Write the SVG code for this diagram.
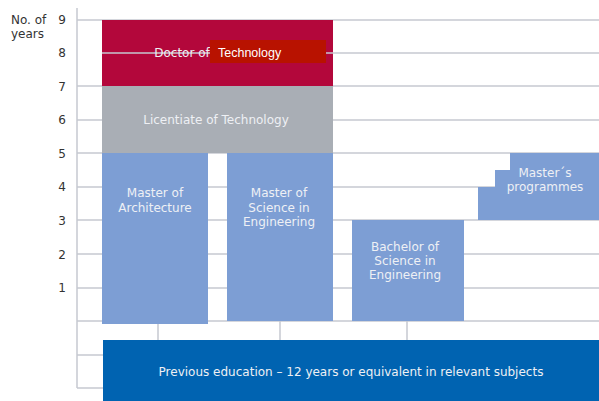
<svg xmlns="http://www.w3.org/2000/svg" width="599" height="401" viewBox="0 0 599 401">
<style>
.grid{stroke:#c6c9d0;stroke-width:1.5;fill:none}
.axis{fill:#333;font-family:"DejaVu Sans",Verdana,sans-serif;font-size:12px}
.lbl{fill:#eef0f4;font-family:"DejaVu Sans",Verdana,sans-serif;font-size:12px;text-anchor:middle}
.blue{fill:#7d9ed4}
</style>
<rect width="599" height="401" fill="#ffffff"/>
<g id="grid">
<line class="grid" x1="77" y1="8" x2="77" y2="388"/>
<line class="grid" x1="77" y1="20" x2="599" y2="20"/>
<line class="grid" x1="77" y1="86" x2="599" y2="86"/>
<line class="grid" x1="77" y1="120" x2="599" y2="120"/>
<line class="grid" x1="77" y1="153" x2="599" y2="153"/>
<line class="grid" x1="77" y1="187" x2="599" y2="187"/>
<line class="grid" x1="77" y1="220" x2="599" y2="220"/>
<line class="grid" x1="77" y1="254" x2="599" y2="254"/>
<line class="grid" x1="77" y1="288" x2="599" y2="288"/>
<line class="grid" x1="77" y1="321" x2="599" y2="321"/>
<line class="grid" x1="77" y1="355" x2="599" y2="355"/>
<line class="grid" x1="77" y1="388" x2="103" y2="388"/>
</g>
<g id="axis-labels">
<text class="axis" x="11" y="24">No. of</text>
<text class="axis" x="11" y="38">years</text>
<text class="axis" x="66" y="24" text-anchor="end">9</text>
<text class="axis" x="66" y="57" text-anchor="end">8</text>
<text class="axis" x="66" y="91" text-anchor="end">7</text>
<text class="axis" x="66" y="124" text-anchor="end">6</text>
<text class="axis" x="66" y="158" text-anchor="end">5</text>
<text class="axis" x="66" y="191" text-anchor="end">4</text>
<text class="axis" x="66" y="225" text-anchor="end">3</text>
<text class="axis" x="66" y="259" text-anchor="end">2</text>
<text class="axis" x="66" y="292" text-anchor="end">1</text>
</g>
<g id="connectors">
<line class="grid" x1="158" y1="321" x2="158" y2="340"/>
<line class="grid" x1="280" y1="321" x2="280" y2="340"/>
<line class="grid" x1="407" y1="321" x2="407" y2="340"/>
</g>
<g id="doctor">
<rect x="102" y="20" width="231" height="66" fill="#b3073b"/>
<line class="grid" x1="102" y1="53" x2="599" y2="53"/>
<text class="lbl" x="182" y="57">Doctor of</text>
<rect x="210" y="40" width="116" height="23" fill="#b81200"/>
<text x="218" y="57" fill="#ffffff" font-family="'Liberation Sans',Arial,sans-serif" font-size="12.5px">Technology</text>
</g>
<g id="licentiate">
<rect x="102" y="86" width="231" height="67" fill="#a9aeb5"/>
<text class="lbl" x="216" y="124">Licentiate of Technology</text>
</g>
<g id="master-arch">
<rect class="blue" x="102" y="153" width="106" height="171"/>
<text class="lbl" x="155" y="197">Master of</text>
<text class="lbl" x="155" y="212">Architecture</text>
</g>
<g id="master-sci">
<rect class="blue" x="227" y="153" width="106" height="168"/>
<text class="lbl" x="279" y="197">Master of</text>
<text class="lbl" x="279" y="212">Science in</text>
<text class="lbl" x="279" y="226">Engineering</text>
</g>
<g id="bachelor">
<rect class="blue" x="352" y="220" width="112" height="101"/>
<text class="lbl" x="405" y="251">Bachelor of</text>
<text class="lbl" x="405" y="265">Science in</text>
<text class="lbl" x="405" y="279">Engineering</text>
</g>
<g id="masters-programmes">
<path class="blue" d="M478,220 V187 H495 V170 H510 V153 H599 V220 Z"/>
<text class="lbl" x="545" y="177">Master´s</text>
<text class="lbl" x="545" y="191">programmes</text>
</g>
<g id="previous">
<rect x="103" y="340" width="496" height="61" fill="#0063b1"/>
<text class="lbl" x="351" y="376">Previous education – 12 years or equivalent in relevant subjects</text>
</g>
</svg>
